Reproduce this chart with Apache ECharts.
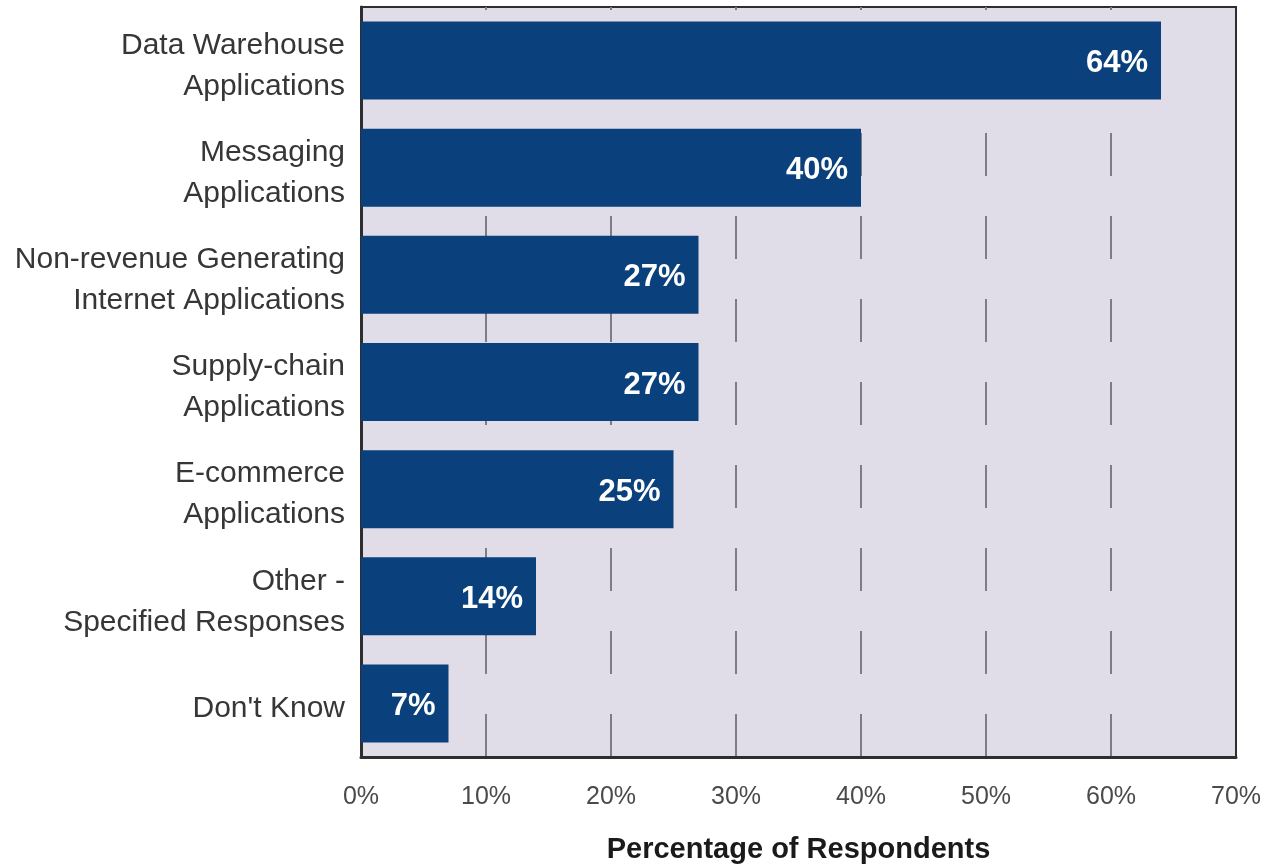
<!DOCTYPE html>
<html>
<head>
<meta charset="utf-8">
<script src="https://cdn.jsdelivr.net/npm/echarts@6/dist/echarts.min.js"></script>
<style>
html,body{margin:0;padding:0;background:#ffffff;}
#chart{width:1272px;height:866px;}
</style>
</head>
<body>
<div id="chart"></div>
<script>
const categories = [
  "Data Warehouse\nApplications",
  "Messaging\nApplications",
  "Non-revenue Generating\nInternet Applications",
  "Supply-chain\nApplications",
  "E-commerce\nApplications",
  "Other -\nSpecified Responses",
  "Don't Know"
];
const values = [64, 40, 27, 27, 25, 14, 7];
const xTicks = [0, 10, 20, 30, 40, 50, 60, 70];
const xAxisTitle = "Percentage of Respondents";

const FONT = "'Liberation Sans', Arial, Helvetica, sans-serif";

const chart = echarts.init(document.getElementById('chart'), null, {renderer: 'canvas'});
chart.setOption({
  backgroundColor: '#ffffff',
  animation: false,
  grid: {
    left: 361, right: 36, top: 7, bottom: 109,
    show: true,
    backgroundColor: '#e0dde8',
    borderColor: '#2e2e2e',
    borderWidth: 2,
    containLabel: false,
    outerBoundsMode: 'none'
  },
  xAxis: {
    type: 'value',
    min: xTicks[0],
    max: xTicks[xTicks.length - 1],
    interval: 10,
    name: xAxisTitle,
    nameLocation: 'middle',
    nameGap: 78,
    nameTextStyle: {fontFamily: FONT, fontSize: 29, fontWeight: 'bold', color: '#1a1a1a'},
    axisLine: {show: true, lineStyle: {color: '#2e2e2e', width: 3}},
    axisTick: {show: false},
    axisLabel: {
      fontFamily: FONT, fontSize: 25, color: '#4a4a4a', margin: 28,
      formatter: v => v + '%'
    },
    splitLine: {
      show: true,
      showMinLine: false,
      showMaxLine: false,
      lineStyle: {color: '#7d7d85', width: 2, type: [43, 40], dashOffset: 40}
    }
  },
  yAxis: {
    type: 'category',
    data: categories,
    inverse: true,
    axisLine: {show: true, lineStyle: {color: '#2e2e2e', width: 3}},
    axisTick: {show: false},
    axisLabel: {
      fontFamily: FONT, fontSize: 30, color: '#363636', margin: 16,
      align: 'right', verticalAlign: 'middle',
      formatter: v => '{s| }\n' + v.split('\n').map(l => '{t|' + l + '}').join('\n'),
      rich: {
        s: {fontSize: 1, lineHeight: 11},
        t: {fontFamily: FONT, fontSize: 30, color: '#363636', lineHeight: 41, align: 'right'}
      }
    },
    splitLine: {show: false}
  },
  series: [{
    type: 'bar',
    data: values,
    barWidth: 78,
    itemStyle: {color: '#0a407c'},
    label: {
      show: true,
      position: 'insideRight',
      distance: 13,
      offset: [0, 3],
      formatter: p => p.value + '%',
      fontFamily: FONT, fontSize: 31, fontWeight: 'bold', color: '#ffffff'
    }
  }]
});
</script>
</body>
</html>
